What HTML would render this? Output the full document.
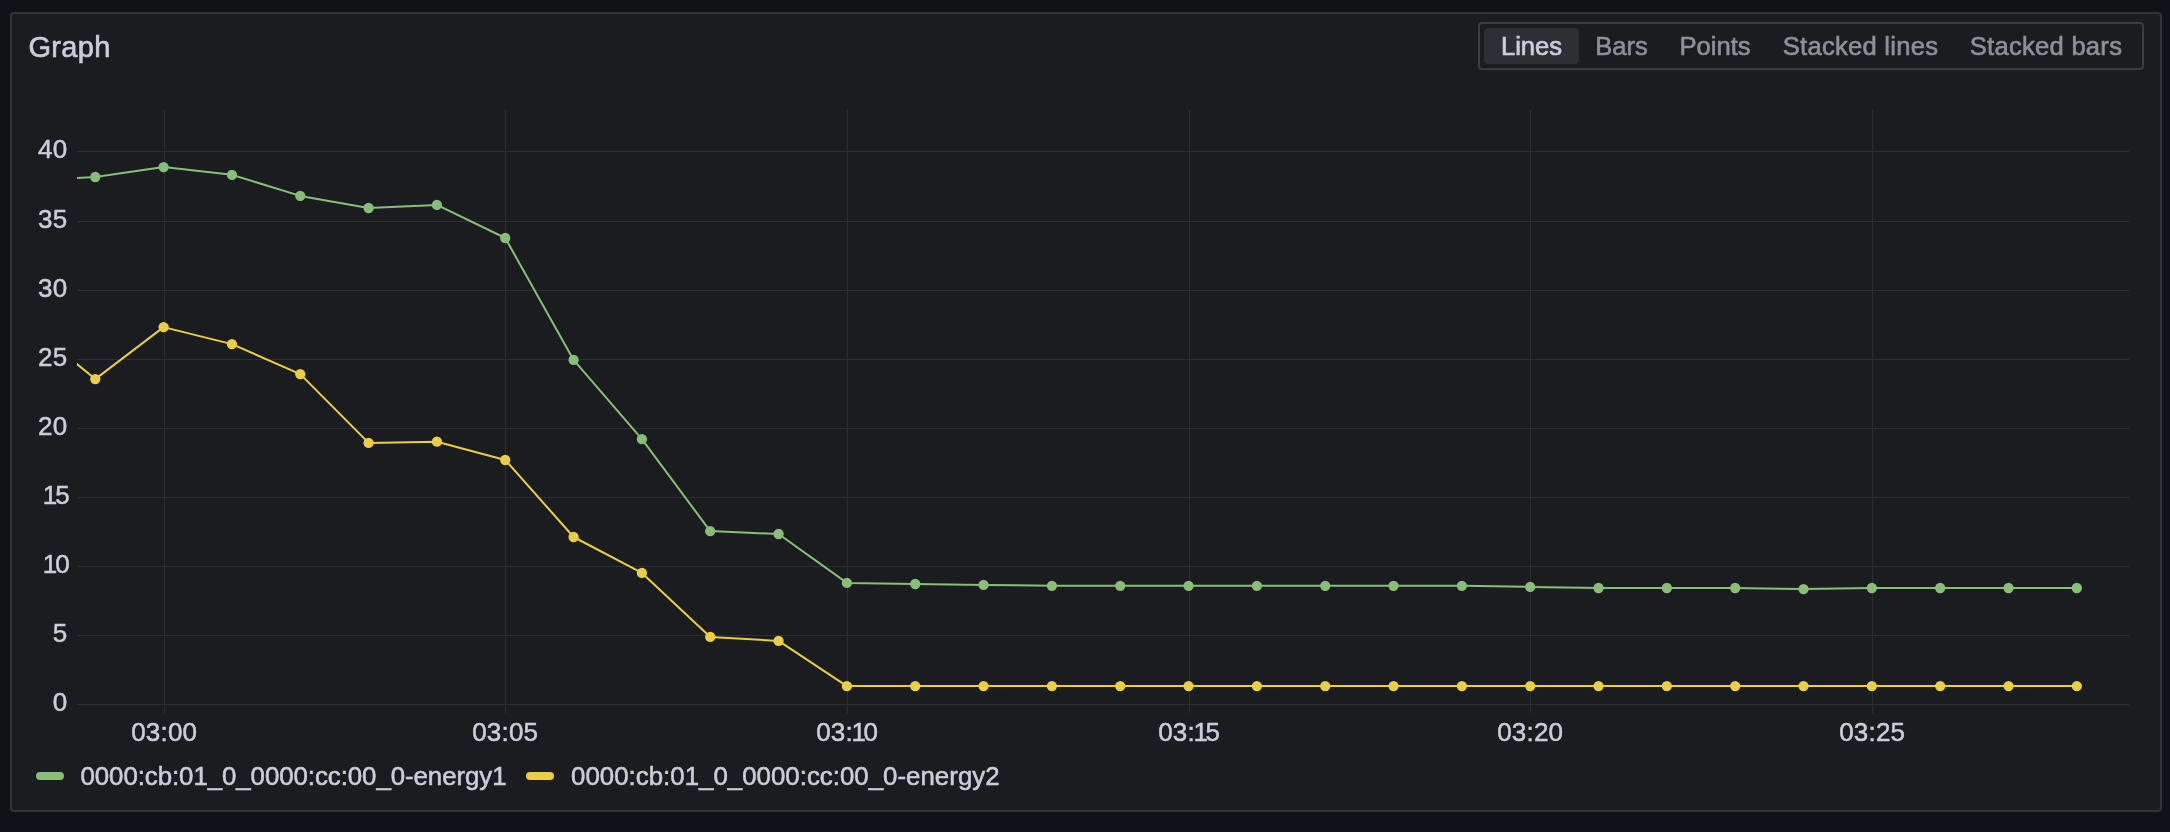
<!DOCTYPE html>
<html lang="en">
<head>
<meta charset="utf-8">
<title>Graph</title>
<style>
html,body{margin:0;padding:0;}
body{width:2170px;height:832px;background:#111217;overflow:hidden;position:relative;
  font-family:"Liberation Sans",sans-serif;color:#ccccdc;}
.root{position:absolute;left:0;top:0;width:2170px;height:832px;will-change:transform;}
.panel{position:absolute;left:10px;top:12px;width:2152px;height:800px;box-sizing:border-box;
  border:2px solid #323439;border-radius:4px;background:#1b1c20;}
.title{position:absolute;left:28.5px;top:29px;font-size:29px;line-height:36px;white-space:nowrap;
  -webkit-text-stroke:0.65px #ccccdc;letter-spacing:0.3px;}
.radio{position:absolute;left:1478px;top:22px;width:666px;height:48px;box-sizing:border-box;
  border:2px solid #3a3c42;border-radius:4px;}
.btn{position:absolute;top:28px;height:36px;line-height:36px;font-size:25.6px;text-align:center;
  white-space:nowrap;color:#8f8f9c;border-radius:4px;-webkit-text-stroke:0.6px #8f8f9c;}
.btn.on{background:#2e2f35;color:#ccccdc;-webkit-text-stroke:0.7px #ccccdc;}
.chart{position:absolute;left:0;top:0;}
.ax text{font-family:"Liberation Sans",sans-serif;font-size:26px;stroke:#ccccdc;stroke-width:0.5px;letter-spacing:0.2px;}
.sw{position:absolute;top:772px;width:28px;height:8px;border-radius:4px;}
.lb{position:absolute;top:760px;font-size:25.8px;line-height:32px;white-space:nowrap;-webkit-text-stroke:0.55px #ccccdc;}
</style>
</head>
<body>
<div class="root">
<div class="panel"></div>
<div class="title">Graph</div>
<div class="radio"></div>
<div class="btn on" style="left:1484px;width:95px">Lines</div>
<div class="btn" style="left:1581px;width:81px">Bars</div>
<div class="btn" style="left:1664px;width:102px">Points</div>
<div class="btn" style="left:1768px;width:185px;letter-spacing:0.25px">Stacked lines</div>
<div class="btn" style="left:1955px;width:182px;letter-spacing:0.25px">Stacked bars</div>
<svg class="chart" width="2170" height="832" viewBox="0 0 2170 832">
<defs><clipPath id="plotclip"><rect x="77" y="100" width="2060" height="620"/></clipPath></defs>
<g fill="#2c3034" shape-rendering="crispEdges">
<rect x="164" y="110" width="1" height="603"/>
<rect x="505" y="110" width="1" height="603"/>
<rect x="847" y="110" width="1" height="603"/>
<rect x="1189" y="110" width="1" height="603"/>
<rect x="1530" y="110" width="1" height="603"/>
<rect x="1872" y="110" width="1" height="603"/>
<rect x="78" y="151" width="2051" height="1"/>
<rect x="78" y="221" width="2051" height="1"/>
<rect x="78" y="290" width="2051" height="1"/>
<rect x="78" y="359" width="2051" height="1"/>
<rect x="78" y="428" width="2051" height="1"/>
<rect x="78" y="497" width="2051" height="1"/>
<rect x="78" y="566" width="2051" height="1"/>
<rect x="78" y="635" width="2051" height="1"/>
<rect x="78" y="704" width="2051" height="1"/>
</g>
<g class="ax" fill="#ccccdc" text-anchor="end">
<text x="67.4" y="158.4">40</text>
<text x="67.4" y="228.4">35</text>
<text x="67.4" y="297.4">30</text>
<text x="67.4" y="366.4">25</text>
<text x="67.4" y="435.4">20</text>
<text x="67.4" y="504.4"><tspan dx="2.4">1</tspan><tspan dx="-2.4">5</tspan></text>
<text x="67.4" y="573.4"><tspan dx="2.4">1</tspan><tspan dx="-2.4">0</tspan></text>
<text x="67.4" y="642.4">5</text>
<text x="67.4" y="711.4">0</text>
</g>
<g class="ax" fill="#ccccdc" text-anchor="middle">
<text x="164.2" y="741.3">03:00</text>
<text x="505.2" y="741.3">03:05</text>
<text x="847.2" y="741.3">03:<tspan dx="-1.5">1</tspan><tspan dx="-2.5">0</tspan></text>
<text x="1189.2" y="741.3">03:<tspan dx="-1.5">1</tspan><tspan dx="-2.5">5</tspan></text>
<text x="1530.2" y="741.3">03:20</text>
<text x="1872.2" y="741.3">03:25</text>
</g>
<path d="M57.00 179.09 L95.27 177.00 L163.60 167.10 L231.93 174.80 L300.26 195.90 L368.59 208.00 L436.92 204.90 L505.25 238.00 L573.58 359.90 L641.91 439.20 L710.24 531.10 L778.57 534.00 L846.90 582.90 L915.23 584.00 L983.56 584.90 L1051.89 585.80 L1120.22 585.80 L1188.55 585.80 L1256.88 585.80 L1325.21 585.80 L1393.54 585.80 L1461.87 585.80 L1530.20 586.90 L1598.53 588.00 L1666.86 588.00 L1735.19 588.00 L1803.52 589.10 L1871.85 588.00 L1940.18 588.00 L2008.51 588.00 L2076.84 588.00" fill="none" stroke="#86bf75" stroke-width="2" stroke-linejoin="round" clip-path="url(#plotclip)"/>
<g fill="#86bf75"><circle cx="95.27" cy="177.00" r="5.15"/><circle cx="163.60" cy="167.10" r="5.15"/><circle cx="231.93" cy="174.80" r="5.15"/><circle cx="300.26" cy="195.90" r="5.15"/><circle cx="368.59" cy="208.00" r="5.15"/><circle cx="436.92" cy="204.90" r="5.15"/><circle cx="505.25" cy="238.00" r="5.15"/><circle cx="573.58" cy="359.90" r="5.15"/><circle cx="641.91" cy="439.20" r="5.15"/><circle cx="710.24" cy="531.10" r="5.15"/><circle cx="778.57" cy="534.00" r="5.15"/><circle cx="846.90" cy="582.90" r="5.15"/><circle cx="915.23" cy="584.00" r="5.15"/><circle cx="983.56" cy="584.90" r="5.15"/><circle cx="1051.89" cy="585.80" r="5.15"/><circle cx="1120.22" cy="585.80" r="5.15"/><circle cx="1188.55" cy="585.80" r="5.15"/><circle cx="1256.88" cy="585.80" r="5.15"/><circle cx="1325.21" cy="585.80" r="5.15"/><circle cx="1393.54" cy="585.80" r="5.15"/><circle cx="1461.87" cy="585.80" r="5.15"/><circle cx="1530.20" cy="586.90" r="5.15"/><circle cx="1598.53" cy="588.00" r="5.15"/><circle cx="1666.86" cy="588.00" r="5.15"/><circle cx="1735.19" cy="588.00" r="5.15"/><circle cx="1803.52" cy="589.10" r="5.15"/><circle cx="1871.85" cy="588.00" r="5.15"/><circle cx="1940.18" cy="588.00" r="5.15"/><circle cx="2008.51" cy="588.00" r="5.15"/><circle cx="2076.84" cy="588.00" r="5.15"/></g>
<path d="M57.00 347.68 L95.27 379.10 L163.60 327.10 L231.93 344.10 L300.26 374.10 L368.59 442.90 L436.92 441.70 L505.25 460.00 L573.58 537.00 L641.91 572.90 L710.24 636.90 L778.57 640.90 L846.90 686.05 L915.23 686.05 L983.56 686.05 L1051.89 686.05 L1120.22 686.05 L1188.55 686.05 L1256.88 686.05 L1325.21 686.05 L1393.54 686.05 L1461.87 686.05 L1530.20 686.05 L1598.53 686.05 L1666.86 686.05 L1735.19 686.05 L1803.52 686.05 L1871.85 686.05 L1940.18 686.05 L2008.51 686.05 L2076.84 686.05" fill="none" stroke="#ebce43" stroke-width="2" stroke-linejoin="round" clip-path="url(#plotclip)"/>
<g fill="#ebce43"><circle cx="95.27" cy="379.10" r="5.15"/><circle cx="163.60" cy="327.10" r="5.15"/><circle cx="231.93" cy="344.10" r="5.15"/><circle cx="300.26" cy="374.10" r="5.15"/><circle cx="368.59" cy="442.90" r="5.15"/><circle cx="436.92" cy="441.70" r="5.15"/><circle cx="505.25" cy="460.00" r="5.15"/><circle cx="573.58" cy="537.00" r="5.15"/><circle cx="641.91" cy="572.90" r="5.15"/><circle cx="710.24" cy="636.90" r="5.15"/><circle cx="778.57" cy="640.90" r="5.15"/><circle cx="846.90" cy="686.05" r="5.15"/><circle cx="915.23" cy="686.05" r="5.15"/><circle cx="983.56" cy="686.05" r="5.15"/><circle cx="1051.89" cy="686.05" r="5.15"/><circle cx="1120.22" cy="686.05" r="5.15"/><circle cx="1188.55" cy="686.05" r="5.15"/><circle cx="1256.88" cy="686.05" r="5.15"/><circle cx="1325.21" cy="686.05" r="5.15"/><circle cx="1393.54" cy="686.05" r="5.15"/><circle cx="1461.87" cy="686.05" r="5.15"/><circle cx="1530.20" cy="686.05" r="5.15"/><circle cx="1598.53" cy="686.05" r="5.15"/><circle cx="1666.86" cy="686.05" r="5.15"/><circle cx="1735.19" cy="686.05" r="5.15"/><circle cx="1803.52" cy="686.05" r="5.15"/><circle cx="1871.85" cy="686.05" r="5.15"/><circle cx="1940.18" cy="686.05" r="5.15"/><circle cx="2008.51" cy="686.05" r="5.15"/><circle cx="2076.84" cy="686.05" r="5.15"/></g>
</svg>
<div class="sw" style="left:36px;background:#86bf75"></div>
<div class="lb" style="left:80.5px;letter-spacing:-0.045px">0000:cb:01_0_0000:cc:00_0-energy1</div>
<div class="sw" style="left:526px;background:#ebce43"></div>
<div class="lb" style="left:571px;letter-spacing:0.035px">0000:cb:01_0_0000:cc:00_0-energy2</div>
</div>
</body>
</html>
